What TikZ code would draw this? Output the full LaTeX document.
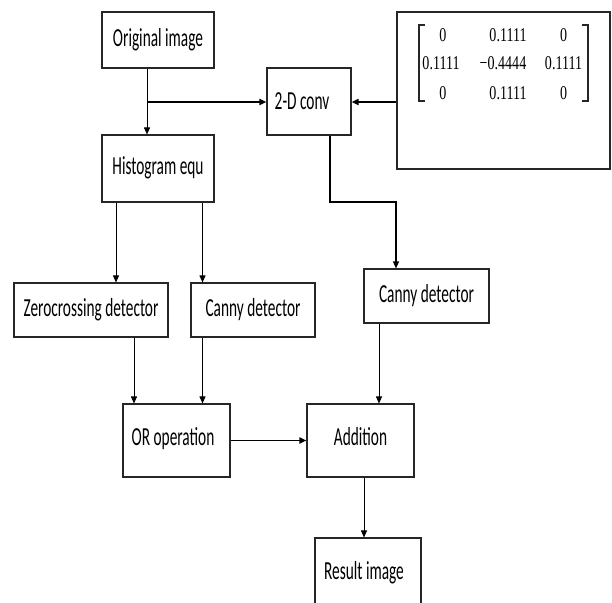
\documentclass[tikz,border=0pt]{standalone}
\usepackage{fontspec}
\setmainfont[FakeStretch=0.59]{Carlito}
\newfontfamily\matfont[FakeStretch=0.72]{Liberation Serif}
\usetikzlibrary{arrows.meta}
\begin{document}
\begin{tikzpicture}[x=1pt,y=-1pt,
  box/.style={draw=black!85, line width=1.1pt, inner sep=0pt, fill=white,
              font=\fontsize{26}{30}\selectfont},
  arr/.style={draw=black, line width=0.9pt, -{Triangle[length=7pt,width=6pt]}},
  thickarr/.style={arr, line width=1.7pt},
  ent/.style={inner sep=0pt, font=\matfont\fontsize{19.5}{22}\selectfont},
  brk/.style={draw=black!85, line width=1.1pt}]
\useasboundingbox (0,0) rectangle (612,602);

% boxes
\node[box, minimum width=112pt, minimum height=56pt] (orig) at (158,40) {Original image};
\node[box, minimum width=84pt, minimum height=67pt] (conv) at (309,101.5) {2-D conv\hspace*{14pt}};
\node[box, minimum width=112pt, minimum height=67pt] (hist) at (158,168.5) {\raisebox{6pt}{Histogram equ}};
\node[box, minimum width=154pt, minimum height=54pt] (zero) at (91,310) {Zerocrossing detector};
\node[box, minimum width=124pt, minimum height=54pt] (canL) at (253,310) {Canny detector};
\node[box, minimum width=125pt, minimum height=54pt] (canR) at (426.5,296) {Canny detector};
\node[box, minimum width=107pt, minimum height=73pt] (orop) at (176.5,440.5) {\raisebox{8.5pt}{OR operation}\hspace*{7pt}};
\node[box, minimum width=107pt, minimum height=73pt] (add) at (360.5,440.5) {\raisebox{8.5pt}{Addition}};
\node[box, minimum width=106pt, minimum height=72pt] (res) at (368,574) {\raisebox{7pt}{Result image}\hspace*{8pt}};
\node[box, minimum width=213pt, minimum height=157pt] (mat) at (503.5,90.5) {};

% matrix entries
\node[ent] (m11) at (443,35) {0};
\node[ent] (m12) at (508,35) {0.1111};
\node[ent] (m13) at (563.5,35) {0};
\node[ent] (m21) at (441,63) {0.1111};
\node[ent] (m22) at (503,63) {−0.4444};
\node[ent] (m23) at (563.5,63) {0.1111};
\node[ent] (m31) at (443,93) {0};
\node[ent] (m32) at (508,93) {0.1111};
\node[ent] (m33) at (563.5,93) {0};
\draw[brk] (425,25) -- (419,25) -- (419,101) -- (425,101);
\draw[brk] (582,25) -- (588,25) -- (588,101) -- (582,101);

% helper coordinates
\coordinate (j1) at (147,102);
\coordinate (xa) at (116,0);
\coordinate (xb) at (202.5,0);
\coordinate (xc) at (134,0);
\coordinate (b1) at (330,202);
\coordinate (xd) at (396,0);
\coordinate (xe) at (379,0);
\coordinate (xf) at (364,0);

% connectors
\draw[arr] (orig.south -| j1) -- (hist.north -| j1);
\draw[thickarr] (j1) -- (conv.west |- j1);
\draw[thickarr] (mat.west |- j1) -- (conv.east |- j1);
\draw[arr] (hist.south -| xa) -- (zero.north -| xa);
\draw[arr] (hist.south -| xb) -- (canL.north -| xb);
\draw[arr, line width=1.3pt] (conv.south -| b1) -- (b1) -| (canR.north -| xd);
\draw[arr] (zero.south -| xc) -- (orop.north -| xc);
\draw[arr] (canL.south -| xb) -- (orop.north -| xb);
\draw[arr] (canR.south -| xe) -- (add.north -| xe);
\draw[thickarr] (orop.east) -- (add.west);
\draw[arr] (add.south -| xf) -- (res.north -| xf);
\end{tikzpicture}
\end{document}
